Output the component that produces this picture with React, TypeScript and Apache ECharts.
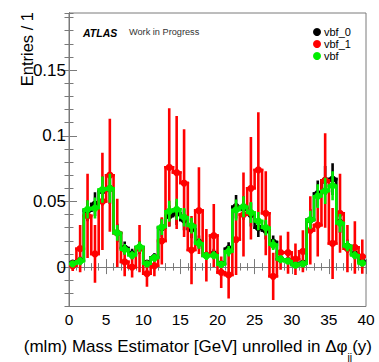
import React, { useEffect, useRef } from "react";
import * as echarts from "echarts";

const xTicks = [0, 5, 10, 15, 20, 25, 30, 35, 40];
const yTicks = [0, 0.05, 0.1, 0.15];
const seriesNames = ["vbf_0", "vbf_1", "vbf"];

const vbf0Values = [
  0.003, 0.005, 0.043, 0.048, 0.058, 0.06, 0.026, 0.0145, 0.01, 0.015,
  0.003, 0.0075, 0.03, 0.039, 0.041, 0.036, 0.029, 0.019, 0.009, 0.01,
  0.0025, 0.014, 0.046, 0.045, 0.04, 0.03, 0.028, 0.019, 0.006, 0.005,
  0.002, 0.003, 0.036, 0.056, 0.066, 0.067, 0.034, 0.016, 0.01, 0.004,
];
const vbf0Errors = [
  0.002, 0.003, 0.008, 0.009, 0.011, 0.012, 0.007, 0.005, 0.004, 0.005,
  0.002, 0.003, 0.007, 0.008, 0.009, 0.008, 0.007, 0.005, 0.003, 0.004,
  0.002, 0.005, 0.009, 0.009, 0.009, 0.007, 0.007, 0.005, 0.003, 0.002,
  0.002, 0.002, 0.008, 0.01, 0.011, 0.012, 0.008, 0.005, 0.004, 0.002,
];
const vbf1Values = [
  0.001, 0.014, 0.039, 0.01, 0.05, 0.07, 0.026, 0.004, 0.0, 0.014,
  -0.005, 0.001, 0.02, 0.076, 0.072, 0.064, 0.013, 0.043, 0.009, 0.024,
  -0.004, -0.006, 0.021, 0.04, 0.06, 0.074, 0.041, -0.007, 0.011, 0.011,
  0.006, 0.012, 0.028, 0.032, 0.066, 0.018, 0.041, 0.014, 0.015, 0.008,
];
const vbf1Errors = [
  0.004, 0.018, 0.032, 0.022, 0.037, 0.043, 0.026, 0.011, 0.008, 0.018,
  0.01, 0.008, 0.018, 0.045, 0.043, 0.041, 0.026, 0.033, 0.02, 0.024,
  0.012, 0.018, 0.027, 0.032, 0.039, 0.044, 0.032, 0.018, 0.013, 0.016,
  0.012, 0.016, 0.026, 0.024, 0.036, 0.027, 0.03, 0.018, 0.02, 0.013,
];
const vbfValues = [
  0.0025, 0.0045, 0.044, 0.045, 0.059, 0.06, 0.026, 0.0135, 0.009, 0.0155,
  0.0025, 0.007, 0.0305, 0.0425, 0.044, 0.038, 0.0315, 0.018, 0.0085, 0.009,
  0.002, 0.012, 0.0435, 0.046, 0.0415, 0.035, 0.03, 0.017, 0.006, 0.0045,
  0.0015, 0.0025, 0.036, 0.054, 0.058, 0.062, 0.0335, 0.016, 0.009, 0.003,
];
const vbfErrors = [
  0.002, 0.003, 0.007, 0.008, 0.01, 0.011, 0.006, 0.004, 0.003, 0.004,
  0.002, 0.003, 0.006, 0.008, 0.008, 0.007, 0.006, 0.004, 0.003, 0.003,
  0.002, 0.004, 0.008, 0.008, 0.008, 0.007, 0.006, 0.004, 0.003, 0.002,
  0.002, 0.002, 0.007, 0.009, 0.01, 0.011, 0.007, 0.004, 0.003, 0.002,
];

const xTitleMain = "(mlm) Mass Estimator [GeV] unrolled in Δφ";
const xTitleSub = "jj";
const xTitleTail = "(y)";

const FONT = "'Liberation Sans', Arial, Helvetica, sans-serif";
const FRAME = "#7a7a7a";

function measure(text: string, size: number) {
  const c = document.createElement("canvas").getContext("2d");
  if (!c) return text.length * size * 0.5;
  c.font = `${size}px ${FONT}`;
  return c.measureText(text).width;
}

function histSeries(name: string, color: string, vals: number[], errs: number[], z: number) {
  return {
    type: "custom",
    name,
    z,
    clip: true,
    itemStyle: { color },
    xAxisIndex: 0,
    yAxisIndex: 0,
    encode: { x: 0, y: 1 },
    data: vals.map((v, i) => [i, v, errs[i], i > 0 ? vals[i - 1] : v]),
    renderItem: (params: any, api: any) => {
      const i = api.value(0);
      const v = api.value(1);
      const e = api.value(2);
      const pv = api.value(3);
      const pL = api.coord([i, v]);
      const pR = api.coord([i + 1, v]);
      const pP = api.coord([i, pv]);
      const pC = api.coord([i + 0.5, v]);
      const pT = api.coord([i + 0.5, v + e]);
      const pB = api.coord([i + 0.5, v - e]);
      const style = { stroke: color, lineWidth: 2.6, fill: null, lineCap: "square" };
      return {
        type: "group",
        children: [
          { type: "line", shape: { x1: pL[0], y1: pL[1], x2: pR[0], y2: pR[1] }, style },
          { type: "line", shape: { x1: pP[0], y1: pP[1], x2: pL[0], y2: pL[1] }, style },
          { type: "line", shape: { x1: pT[0], y1: pT[1], x2: pB[0], y2: pB[1] }, style: { ...style, lineCap: "butt" } },
          { type: "circle", shape: { cx: pC[0], cy: pC[1], r: 3.6 }, style: { fill: color, stroke: null } },
        ],
      };
    },
  };
}

function xAx(position: string, interval: number, len: number, labels: boolean) {
  return {
    type: "value",
    min: 0,
    max: 40,
    interval,
    position,
    axisLine: { show: true, lineStyle: { color: FRAME, width: 1 } },
    axisTick: { show: true, inside: true, length: len, lineStyle: { color: FRAME, width: 1 } },
    axisLabel: labels
      ? { show: true, fontSize: 15.5, color: "#000", fontFamily: FONT, margin: 5, customValues: xTicks }
      : { show: false },
    splitLine: { show: false },
  };
}

function yAx(position: string, major: boolean, labels: boolean) {
  const base: any = {
    type: "value",
    min: -0.03,
    max: 0.1935,
    position,
    axisLine: { show: true, lineStyle: { color: FRAME, width: 1 } },
    splitLine: { show: false },
  };
  if (major) {
    base.axisTick = { show: true, inside: true, length: 8, customValues: yTicks, lineStyle: { color: FRAME, width: 1 } };
    base.axisLabel = labels
      ? {
          show: true,
          fontSize: 17,
          color: "#000",
          fontFamily: FONT,
          margin: 3,
          customValues: yTicks,
          formatter: (v: number) => String(Math.round(v * 100) / 100),
        }
      : { show: false };
  } else {
    base.interval = 0.01;
    base.axisTick = { show: true, inside: true, length: 4.5, lineStyle: { color: FRAME, width: 1 } };
    base.axisLabel = { show: false };
  }
  return base;
}

export default function App() {
  const ref = useRef<HTMLDivElement>(null);
  useEffect(() => {
    if (!ref.current) return;
    const chart = echarts.init(ref.current, null, { renderer: "svg" });
    const mainSize = 17;
    const subSize = 10.5;
    const w1 = measure(xTitleMain, mainSize);
    const w2 = measure(xTitleSub, subSize);
    const w3 = measure(xTitleTail, mainSize);
    const titleRight = 372;
    const x0 = titleRight - (w1 + w2 + w3);
    chart.setOption({
      animation: false,
      backgroundColor: "#fff",
      grid: { left: 69, right: 13, top: 13, bottom: 55.5, show: true, borderColor: FRAME, borderWidth: 1 },
      xAxis: [xAx("bottom", 5, 8, true), xAx("bottom", 1, 4, false), xAx("top", 5, 7, false), xAx("top", 1, 3.5, false)],
      yAxis: [yAx("left", true, true), yAx("left", false, false), yAx("right", true, false), yAx("right", false, false)],
      legend: {
        data: seriesNames.map((n) => ({ name: n, icon: "circle" })),
        orient: "vertical",
        left: 313,
        top: 26.5,
        padding: 0,
        itemWidth: 8,
        itemHeight: 8,
        itemGap: 1,
        selectedMode: false,
        textStyle: { fontSize: 11, fontFamily: FONT, color: "#000", padding: [0, 0, 0, -2] },
      },
      graphic: [
        {
          type: "text",
          left: 83,
          top: 27,
          style: { text: "ATLAS", fontSize: 10.5, fontWeight: "bold", fontStyle: "italic", fontFamily: FONT, fill: "#000" },
        },
        {
          type: "text",
          left: 129,
          top: 27.5,
          style: { text: "Work in Progress", fontSize: 9.2, fontFamily: FONT, fill: "#333" },
        },
        {
          type: "text",
          x: 27,
          y: 12,
          rotation: Math.PI / 2,
          style: { text: "Entries / 1", fontSize: 16.5, fontFamily: FONT, fill: "#000", align: "right", verticalAlign: "middle" },
        },
        {
          type: "text",
          x: x0,
          y: 346,
          style: { text: xTitleMain, fontSize: mainSize, fontFamily: FONT, fill: "#000", align: "left", verticalAlign: "middle" },
        },
        {
          type: "text",
          x: x0 + w1,
          y: 357,
          style: { text: xTitleSub, fontSize: subSize, fontFamily: FONT, fill: "#000", align: "left", verticalAlign: "middle" },
        },
        {
          type: "text",
          x: x0 + w1 + w2,
          y: 346,
          style: { text: xTitleTail, fontSize: mainSize, fontFamily: FONT, fill: "#000", align: "left", verticalAlign: "middle" },
        },
      ],
      series: [
        histSeries(seriesNames[0], "#000000", vbf0Values, vbf0Errors, 2),
        histSeries(seriesNames[1], "#ff0000", vbf1Values, vbf1Errors, 3),
        histSeries(seriesNames[2], "#00ee00", vbfValues, vbfErrors, 4),
      ],
    });
    return () => chart.dispose();
  }, []);
  return <div ref={ref} style={{ position: "fixed", left: 0, top: 0, width: 379, height: 362 }} />;
}
